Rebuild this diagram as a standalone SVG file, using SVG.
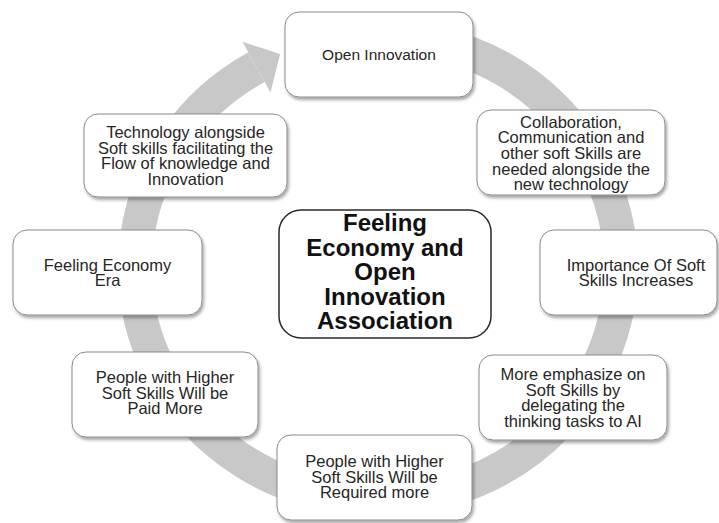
<svg xmlns="http://www.w3.org/2000/svg" width="719" height="523" viewBox="0 0 719 523">
<defs>
<filter id="sh" x="-10%" y="-10%" width="125%" height="130%">
<feDropShadow dx="1.5" dy="2.5" stdDeviation="1.8" flood-color="#000" flood-opacity="0.35"/>
</filter>
<style>
.node rect{fill:#fff;stroke:#8a8a8a;stroke-width:1;filter:url(#sh)}
.node text{font-family:"Liberation Sans",Arial,sans-serif;font-size:16.5px;fill:#262626;text-anchor:middle}
#center rect{fill:#fff;stroke:#2a2a2a;stroke-width:1.5}
#center text{font-family:"Liberation Sans",Arial,sans-serif;font-size:24px;font-weight:bold;fill:#111;text-anchor:middle}
.ring{fill:none;stroke:#c8c8c8;stroke-width:34}
.head{fill:#c8c8c8}
</style>
</defs>
<rect width="719" height="523" fill="#fff"/>
<g id="connectors">
<path class="ring" d="M 356.8 36.9 A 243 232 0 1 1 256.5 67.1"/>
<polygon class="head" points="242.5,41.7 280.1,54.1 270.5,92.5"/>
</g>
<g id="n-open" class="node">
<rect x="285" y="12" width="188" height="85" rx="14"/>
<text x="379" y="60" style="font-size:15.5px">Open Innovation</text>
</g>
<g id="n-collab" class="node">
<rect x="477" y="110" width="188" height="85" rx="14"/>
<text x="571" y="127.5">Collaboration,</text>
<text x="571" y="143.2">Communication and</text>
<text x="571" y="158.9">other soft Skills are</text>
<text x="571" y="174.6">needed alongside the</text>
<text x="571" y="190.3">new technology</text>
</g>
<g id="n-tech" class="node">
<rect x="84" y="114" width="203" height="83" rx="14"/>
<text x="185.5" y="138">Technology alongside</text>
<text x="185.5" y="153.7">Soft skills facilitating the</text>
<text x="185.5" y="169.4">Flow of knowledge and</text>
<text x="185.5" y="185.1">Innovation</text>
</g>
<g id="n-era" class="node">
<rect x="13" y="230" width="189" height="85" rx="14"/>
<text x="107.5" y="270.5">Feeling Economy</text>
<text x="107.5" y="286.2">Era</text>
</g>
<g id="n-importance" class="node">
<rect x="540" y="230" width="177" height="85" rx="14"/>
<text x="636" y="270.5">Importance Of Soft</text>
<text x="636" y="286.2">Skills Increases</text>
</g>
<g id="n-paid" class="node">
<rect x="72" y="352" width="186" height="85" rx="14"/>
<text x="165" y="383">People with Higher</text>
<text x="165" y="398.7">Soft Skills Will be</text>
<text x="165" y="414.4">Paid More</text>
</g>
<g id="n-emph" class="node">
<rect x="479" y="355" width="188" height="85" rx="14"/>
<text x="573" y="380">More emphasize on</text>
<text x="573" y="395.7">Soft Skills by</text>
<text x="573" y="411.4">delegating the</text>
<text x="573" y="427.1">thinking tasks to AI</text>
</g>
<g id="n-req" class="node">
<rect x="277" y="435" width="195" height="85" rx="14"/>
<text x="374.5" y="467">People with Higher</text>
<text x="374.5" y="482.7">Soft Skills Will be</text>
<text x="374.5" y="498.4">Required more</text>
</g>
<g id="center">
<rect x="279" y="210" width="212" height="128" rx="22"/>
<text x="385" y="231">Feeling</text>
<text x="385" y="255.5">Economy and</text>
<text x="385" y="280">Open</text>
<text x="385" y="304.5">Innovation</text>
<text x="385" y="329">Association</text>
</g>
</svg>
